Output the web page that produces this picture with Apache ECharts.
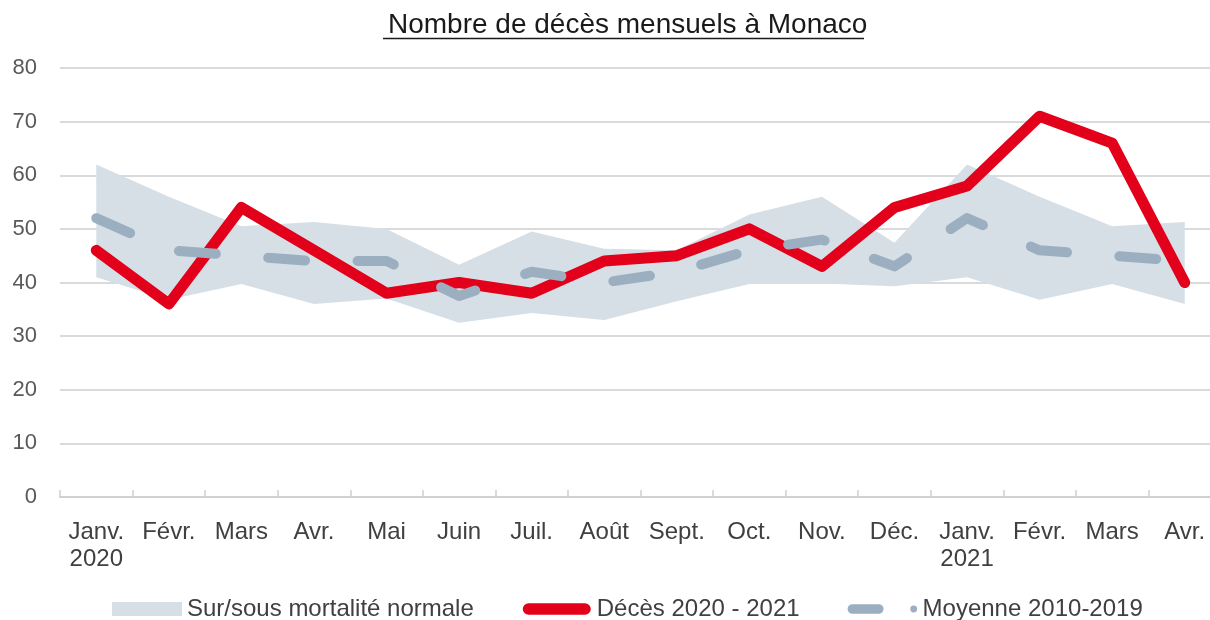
<!DOCTYPE html>
<html>
<head>
<meta charset="utf-8">
<script src="https://cdn.jsdelivr.net/npm/echarts@6/dist/echarts.min.js"></script>
<style>
  html, body { margin: 0; padding: 0; background: #fff; }
  #chart { width: 1210px; height: 620px; }
</style>
</head>
<body>
<div id="chart"></div>
<script>
// données
const months = ['Janv.\n2020', 'Févr.', 'Mars', 'Avr.', 'Mai', 'Juin', 'Juil.', 'Août', 'Sept.', 'Oct.', 'Nov.', 'Déc.', 'Janv.\n2021', 'Févr.', 'Mars', 'Avr.']
const deces = [46, 36, 54, 46, 38, 40, 38, 44, 45, 50, 43, 54, 58, 71, 66, 40]
const moyenne = [52, 46, 45, 44, 44, 37.5, 42, 40, 42, 46, 48, 43, 52, 46, 45, 44]
const bandHigh = [62, 56, 50.5, 51.3, 50, 43.3, 49.5, 46.3, 46, 52.7, 56, 47.4, 62, 56, 50.5, 51.3]
const bandLow = [41, 36.8, 39.7, 36, 37, 32.5, 34.3, 33, 36.5, 39.7, 39.8, 39.3, 41, 36.8, 39.7, 36]
const yMin = 0, yMax = 80, yStep = 10

const font = 'Liberation Sans, Arial, sans-serif'
const red = '#e2001a'
const blueGrey = '#9bafc0'
const bandColor = '#d6dfe6'

// épaisseur de la bande = haut - bas (empilée sur le bas)
const bandWidth = bandHigh.map((v, i) => +(v - bandLow[i]).toFixed(2))

const chart = echarts.init(document.getElementById('chart'))
chart.setOption({
  animation: false,
  textStyle: { fontFamily: font },
  title: {
    text: 'Nombre de décès mensuels à Monaco',
    left: 383,
    top: 6,
    textStyle: { fontSize: 28, fontWeight: 'normal', color: '#1a1a1a', fontFamily: font }
  },
  graphic: [
    { type: 'line', shape: { x1: 383, y1: 38.5, x2: 864, y2: 38.5 }, style: { stroke: '#1a1a1a', lineWidth: 1.5 } }
  ],
  // la dernière catégorie déborde à droite, comme sur l'original
  grid: { left: 60, top: 68, width: 1161, height: 429, outerBoundsMode: 'none', containLabel: false },
  legend: {
    top: 592,
    left: 107,
    itemWidth: 70,
    itemHeight: 14,
    itemGap: 48,
    textStyle: { fontSize: 24, color: '#404040', fontFamily: font },
    data: [
      { name: 'Sur/sous mortalité normale', icon: 'rect' },
      { name: 'Décès 2020 - 2021', icon: 'path://M0,0 M72,14 M7,1 L65,1 A6,6 0 0 1 65,13 L7,13 A6,6 0 0 1 7,1 Z' },
      { name: 'Moyenne 2010-2019', icon: 'path://M0,0 M72,14 M5,2 L32,2 A5,5 0 0 1 32,12 L5,12 A5,5 0 0 1 5,2 Z M68,3.5 A3.5,3.5 0 1 1 68,10.5 A3.5,3.5 0 1 1 68,3.5 Z' }
    ]
  },
  xAxis: {
    type: 'category',
    data: months,
    boundaryGap: true,
    axisLine: { lineStyle: { color: '#d0d0d0', width: 2 } },
    axisTick: { show: true, inside: true, length: 7, lineStyle: { color: '#d0d0d0', width: 1.5 } },
    axisLabel: { fontSize: 24, color: '#404040', margin: 22, lineHeight: 27, interval: 0, fontFamily: font }
  },
  yAxis: {
    type: 'value',
    min: yMin,
    max: yMax,
    interval: yStep,
    axisLine: { show: false },
    axisTick: { show: false },
    axisLabel: { fontSize: 22, color: '#595959', margin: 23, fontFamily: font },
    splitLine: { lineStyle: { color: '#dadada', width: 2 } }
  },
  series: [
    {
      name: 'bas',
      type: 'line',
      stack: 'bande',
      data: bandLow,
      symbol: 'none',
      lineStyle: { opacity: 0 },
      silent: true
    },
    {
      name: 'Sur/sous mortalité normale',
      type: 'line',
      stack: 'bande',
      data: bandWidth,
      symbol: 'none',
      lineStyle: { opacity: 0 },
      itemStyle: { color: bandColor },
      areaStyle: { color: bandColor, opacity: 1 }
    },
    {
      name: 'Décès 2020 - 2021',
      type: 'line',
      data: deces,
      symbol: 'none',
      itemStyle: { color: red },
      lineStyle: { color: red, width: 11, join: 'round', cap: 'round' }
    },
    {
      name: 'Moyenne 2010-2019',
      type: 'line',
      data: moyenne,
      symbol: 'none',
      itemStyle: { color: blueGrey },
      lineStyle: { color: blueGrey, width: 10, type: [37, 52.5], cap: 'round', join: 'round' }
    }
  ]
})
</script>
</body>
</html>
